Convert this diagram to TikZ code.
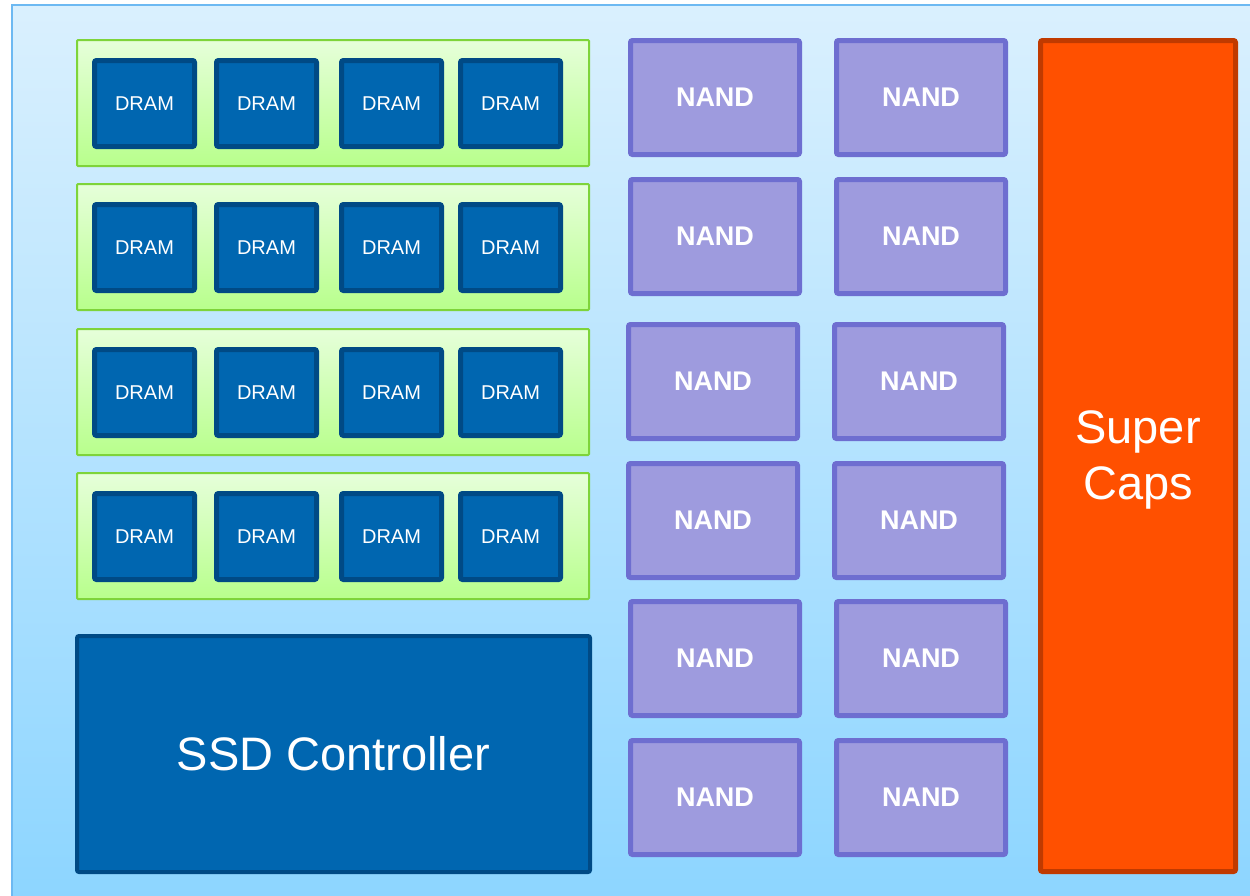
\documentclass[tikz,border=0pt]{standalone}
\usepackage{fontspec}
\setmainfont{Liberation Sans}
\definecolor{bgtop}{HTML}{DAF0FE}
\definecolor{bgbot}{HTML}{8CD5FF}
\definecolor{frameblue}{HTML}{6DB9F2}
\definecolor{greentop}{HTML}{E6FFDA}
\definecolor{greenbot}{HTML}{B8FF8C}
\definecolor{greenline}{HTML}{7ED43A}
\definecolor{chipblue}{HTML}{0066B0}
\definecolor{chipline}{HTML}{004A85}
\definecolor{nandfill}{HTML}{9E9BDE}
\definecolor{nandline}{HTML}{6E6ED0}
\definecolor{capfill}{HTML}{FF5000}
\definecolor{capline}{HTML}{C03A00}
\tikzset{
  module/.style={draw=greenline, line width=2pt, top color=greentop, bottom color=greenbot,
    minimum width=512pt, minimum height=126pt, inner sep=0pt, rounded corners=1pt},
  dramchip/.style={draw=chipline, fill=chipblue, line width=5pt, rounded corners=2pt,
    minimum width=100pt, minimum height=86pt, inner sep=0pt, text=white,
    font=\fontsize{20}{24}\selectfont},
  nandchip/.style={draw=nandline, fill=nandfill, line width=5pt, rounded corners=2pt,
    minimum width=169pt, minimum height=114pt, inner sep=0pt, text=white,
    font=\fontsize{27}{32}\selectfont\bfseries},
  capbox/.style={draw=capline, fill=capfill, line width=5pt, rounded corners=2pt,
    minimum width=195pt, minimum height=831pt, inner sep=0pt, text=white, align=center,
    font=\fontsize{47}{56}\selectfont},
  ctrlbox/.style={draw=chipline, fill=chipblue, line width=4pt, rounded corners=2pt,
    minimum width=513pt, minimum height=236pt, inner sep=0pt, text=white,
    font=\fontsize{47}{56}\selectfont}
}
\begin{document}
\begin{tikzpicture}[x=1pt,y=-1pt]
\useasboundingbox (0,0) rectangle (1250,895);
\clip (0,0) rectangle (1250,895);
\fill[white] (0,0) rectangle (1250,895);
\shade[top color=bgtop, bottom color=bgbot] (11,4) rectangle (1262,907);
\draw[frameblue, line width=2pt] (12,5) rectangle (1262,907);
% DRAM modules
\foreach \r/\y in {1/103,2/247,3/392,4/536}{
  \node[module] (mod\r) at (333,\y) {};
  \foreach \c/\x in {1/144.5,2/266.5,3/391.5,4/510.5}{
    \node[dramchip] (dram\r\c) at (\x,\y+0.5) {DRAM};
  }
}
% NAND chips
\foreach \r/\y/\xa/\xb in {1/97.5/715/921,2/236.5/715/921,3/381.5/713/919,4/520.5/713/919,5/658.5/715/921,6/797.5/715/921}{
  \node[nandchip] (nandA\r) at (\xa,\y) {NAND};
  \node[nandchip] (nandB\r) at (\xb,\y) {NAND};
}
% Super caps
\node[capbox] (caps) at (1138,456) {};
\node[text=white, align=center, font=\fontsize{47}{56}\selectfont, inner sep=0pt] (capstext) at (1138,460) {Super\\Caps};
% Controller
\node[ctrlbox] (ctrl) at (333.5,754) {SSD Controller};
\end{tikzpicture}
\end{document}
